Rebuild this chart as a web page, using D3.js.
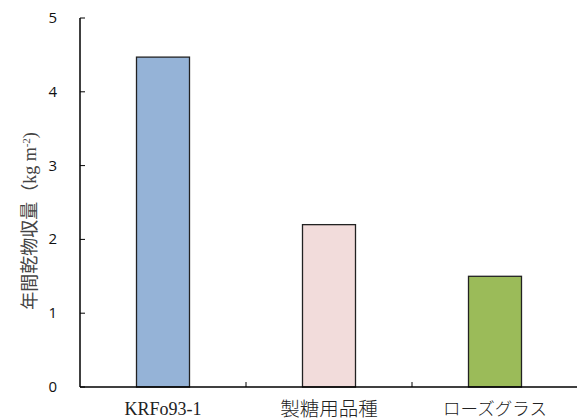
<!DOCTYPE html>
<html><head><meta charset="utf-8">
<script src="https://cdn.jsdelivr.net/npm/d3@7"></script>
<style>body{margin:0;background:#fff}</style>
</head><body>
<svg id="c" width="577" height="419"></svg>
<script>
const categories = ["KRFo93-1", "製糖用品種", "ローズグラス"];
const values = [4.47, 2.2, 1.5];
const colors = ["#95B3D7", "#F2DCDB", "#9BBB59"];
const yTicks = [0, 1, 2, 3, 4, 5];

const svg = d3.select("#c");
const x = d3.scaleBand().domain(categories).range([80, 578]).paddingInner(0).paddingOuter(0);
const y = d3.scaleLinear().domain([0, 5]).range([387, 18]);
const bw = 53;

svg.selectAll("rect.bar").data(values).join("rect")
  .attr("x", (d, i) => x(categories[i]) + x.bandwidth() / 2 - bw / 2)
  .attr("y", d => y(d))
  .attr("width", bw)
  .attr("height", d => y(0) - y(d))
  .attr("fill", (d, i) => colors[i])
  .attr("stroke", "#222")
  .attr("stroke-width", 1.3);

// y axis
svg.append("line").attr("x1", 80).attr("x2", 80).attr("y1", y(5)).attr("y2", y(0))
  .attr("stroke", "#000").attr("stroke-width", 1.5);
svg.selectAll("line.yt").data(yTicks).join("line")
  .attr("x1", 80).attr("x2", 85).attr("y1", d => y(d)).attr("y2", d => y(d))
  .attr("stroke", "#000").attr("stroke-width", 1);
svg.selectAll("text.yl").data(yTicks).join("text")
  .attr("x", 57).attr("y", d => y(d) + 5).attr("text-anchor", "end")
  .attr("font-family", "'Open Sans', 'Liberation Sans', sans-serif").attr("font-size", 15)
  .attr("fill", "#111")
  .text(d => d);

// x axis
svg.append("line").attr("x1", 80).attr("x2", 578).attr("y1", y(0)).attr("y2", y(0))
  .attr("stroke", "#000").attr("stroke-width", 1.5);
const bounds = categories.map(c => x(c)).slice(1);
svg.selectAll("line.xt").data(bounds).join("line")
  .attr("x1", d => d).attr("x2", d => d).attr("y1", y(0)).attr("y2", y(0) - 5)
  .attr("stroke", "#000").attr("stroke-width", 1);
const labelY = [415, 416, 415];
const labelSize = [18, 19.5, 17.5];
svg.selectAll("text.xl").data(categories).join("text")
  .attr("x", d => x(d) + x.bandwidth() / 2)
  .attr("y", (d, i) => labelY[i])
  .attr("text-anchor", "middle")
  .attr("font-family", "'Liberation Serif', 'Noto Sans CJK JP', serif")
  .attr("font-size", (d, i) => labelSize[i])
  .attr("font-weight", 300)
  .attr("fill", "#222")
  .text(d => d);

// y label
const yl = svg.append("text")
  .attr("transform", "translate(36,221) rotate(-90)")
  .attr("text-anchor", "middle")
  .attr("font-family", "'Liberation Serif', 'Noto Sans CJK JP', serif")
  .attr("font-size", 18)
  .attr("fill", "#444");
yl.append("tspan").text("年間乾物収量（kg m");
yl.append("tspan").attr("baseline-shift", "super").attr("font-size", 11).text("-2");
yl.append("tspan").text(")");
</script>
</body></html>
